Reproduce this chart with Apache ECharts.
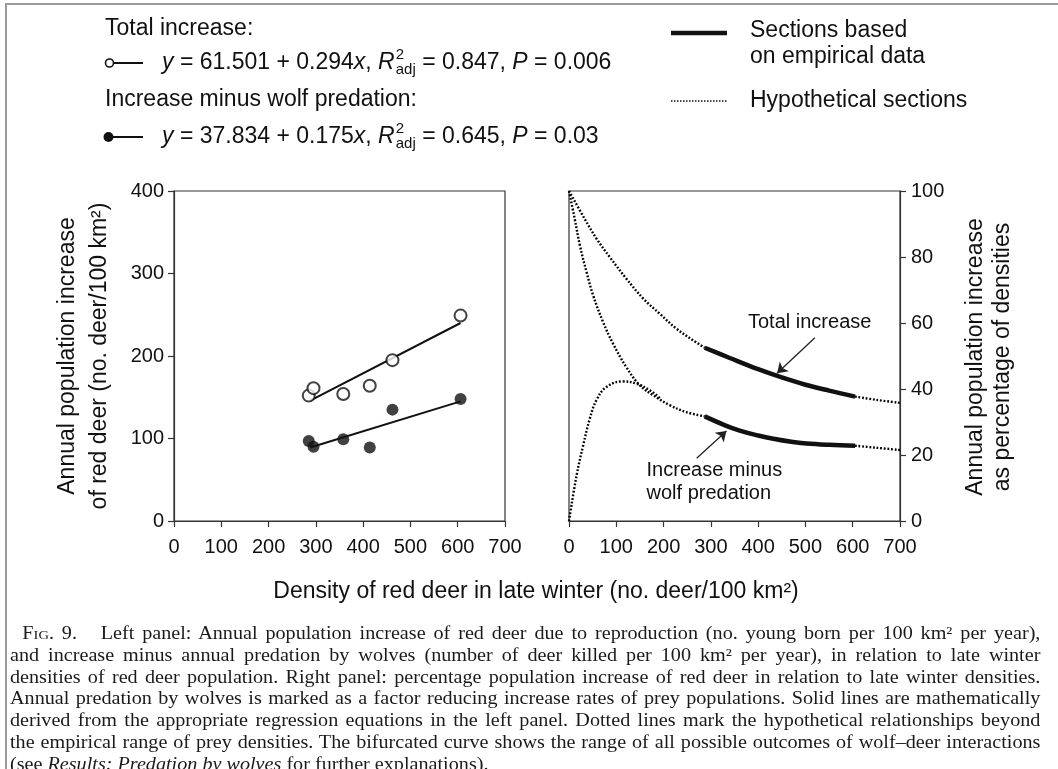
<!DOCTYPE html>
<html>
<head>
<meta charset="utf-8">
<script src="https://cdn.jsdelivr.net/npm/echarts@6/dist/echarts.min.js"></script>
<style>
html, body { margin: 0; padding: 0; background: #fff; }
#wrap { position: relative; width: 1058px; height: 769px; overflow: hidden; }
#chart { position: absolute; left: 0; top: 0; width: 1058px; height: 769px; }
#frameTop { position: absolute; left: 6px; top: 3px; width: 1052px; height: 2px; background: #999; }
#frameLeft { position: absolute; left: 5px; top: 3px; width: 2px; height: 766px; background: #999; }
#caption { position: absolute; left: 10px; top: 623px; width: 1030px; font-family: "Liberation Serif", serif;
  font-size: 18px; line-height: 21.8px; color: #1a1a1a; }
#caption div { width: 920px; transform: scaleX(1.12); transform-origin: 0 0;
  text-align: justify; text-align-last: justify; white-space: nowrap; }
#caption div.first { padding-left: 11px; width: 909px; }
#caption div.last { text-align-last: left; }
.sc { font-variant: small-caps; }
</style>
</head>
<body>
<div id="wrap">
  <div id="chart"></div>
  <div id="frameTop"></div>
  <div id="frameLeft"></div>
  <div id="caption">
    <div class="first"><span class="sc">Fig</span>. 9.&nbsp;&nbsp; Left panel: Annual population increase of red deer due to reproduction (no. young born per 100 km² per year),</div>
    <div>and increase minus annual predation by wolves (number of deer killed per 100 km² per year), in relation to late winter</div>
    <div>densities of red deer population. Right panel: percentage population increase of red deer in relation to late winter densities.</div>
    <div>Annual predation by wolves is marked as a factor reducing increase rates of prey populations. Solid lines are mathematically</div>
    <div>derived from the appropriate regression equations in the left panel. Dotted lines mark the hypothetical relationships beyond</div>
    <div>the empirical range of prey densities. The bifurcated curve shows the range of all possible outcomes of wolf–deer interactions</div>
    <div class="last">(see <i>Results: Predation by wolves</i> for further explanations).</div>
  </div>
</div>
<script>
// left panel: late winter density vs annual increase (no. deer/100 km2)
var densities = [285, 295, 358, 414, 462, 606];
var totalIncrease = [152, 161, 154, 164, 195, 249];
var netIncrease = [97, 90, 99, 89, 135, 148];

// regression line ends
var fitX = [288, 606];
var fitTotal = [146, 240];
var fitNet = [89, 145];

// right panel: percentage increase, [density, %]
var totalHypoLow = [[0, 100], [33, 91.6], [58, 85.6], [86, 80], [121, 73.5], [157, 67.4], [192, 62.8], [227, 58.3], [262, 54.8], [287, 52.5]];
var totalEmpirical = [[287, 52.5], [340, 49.4], [400, 46.0], [450, 43.5], [500, 41.3], [550, 39.5], [605, 37.7]];
var totalHypoHigh = [[605, 37.7], [650, 36.7], [700, 35.8]];
var netHypoDown = [[0, 100], [12, 91.6], [23, 83.5], [37, 75.5], [51, 68.4], [72, 60.3], [93, 53.8], [121, 46.7], [150, 41.1], [178, 38.1], [213, 35.1], [248, 33.0], [287, 31.7]];
var netHypoUp = [[0, 0], [16, 13.8], [30, 22.9], [44, 31], [58, 36.6], [79, 40.6], [114, 42.3], [143, 41.6], [171, 39.6], [195, 36.9]];
var netEmpirical = [[287, 31.7], [330, 29.0], [361, 27.4], [400, 25.9], [432, 24.9], [470, 24.0], [502, 23.5], [550, 23.1], [605, 22.8]];
var netHypoHigh = [[605, 22.8], [650, 22.2], [700, 21.5]];

// annotation arrows and labels (data units of right panel)
var arrowTotal = [[520, 55.5], [440, 44.8]];
var arrowNet = [[270, 19], [333, 27.3]];
var labelTotal = [509, 60.2];
var labelNet = [164, 15.4];

var eqTotal = [{ t: 'y', i: 1 }, { t: ' = 61.501 + 0.294' }, { t: 'x', i: 1 }, { t: ', ' }, { t: 'R', i: 1 },
  { sup: '2', sub: 'adj' }, { t: ' = 0.847, ' }, { t: 'P', i: 1 }, { t: ' = 0.006' }];
var eqNet = [{ t: 'y', i: 1 }, { t: ' = 37.834 + 0.175' }, { t: 'x', i: 1 }, { t: ', ' }, { t: 'R', i: 1 },
  { sup: '2', sub: 'adj' }, { t: ' = 0.645, ' }, { t: 'P', i: 1 }, { t: ' = 0.03' }];

var FONT = '"Liberation Sans", Arial, sans-serif';
var INK = '#111';
var BIG = 23;
var axisLineStyle = { color: '#333', width: 1.2 };

function zip(xs, ys) {
  return xs.map(function (x, k) { return [x, ys[k]]; });
}

function xAxisCfg(grid) {
  return {
    type: 'value', gridIndex: grid, min: 0, max: 700, interval: 100,
    axisLine: { show: true, onZero: false, lineStyle: axisLineStyle },
    axisTick: { show: true, length: 6, lineStyle: axisLineStyle },
    axisLabel: { fontSize: 20, fontFamily: FONT, color: INK, margin: 16 },
    splitLine: { show: false }
  };
}

var dotted = { color: '#000', width: 2.4, type: [1.8, 1.8] };
var thick = { color: INK, width: 4.5, type: 'solid' };

function curve(data, style, z) {
  return {
    type: 'line', xAxisIndex: 1, yAxisIndex: 1, data: data, smooth: 0.4, symbol: 'none',
    lineStyle: style, z: z || 2, silent: true
  };
}

var chart = echarts.init(document.getElementById('chart'));

var option = {
  animation: false,
  backgroundColor: '#fff',
  grid: [
    { left: 174, top: 191, width: 331, height: 330, show: true, borderColor: '#333', borderWidth: 1.2, outerBoundsMode: 'none' },
    { left: 569, top: 191, width: 331, height: 330, show: true, borderColor: '#333', borderWidth: 1.2, outerBoundsMode: 'none' }
  ],
  xAxis: [xAxisCfg(0), xAxisCfg(1)],
  yAxis: [
    {
      type: 'value', gridIndex: 0, min: 0, max: 400, interval: 100, position: 'left',
      axisLine: { show: true, onZero: false, lineStyle: axisLineStyle },
      axisTick: { show: true, length: 6, lineStyle: axisLineStyle },
      axisLabel: { fontSize: 20, fontFamily: FONT, color: INK, margin: 10 },
      splitLine: { show: false }
    },
    {
      type: 'value', gridIndex: 1, min: 0, max: 100, interval: 20, position: 'right',
      axisLine: { show: true, onZero: false, lineStyle: axisLineStyle },
      axisTick: { show: true, length: 6, lineStyle: axisLineStyle },
      axisLabel: { fontSize: 20, fontFamily: FONT, color: INK, margin: 11 },
      splitLine: { show: false }
    }
  ],
  series: [
    {
      type: 'line', xAxisIndex: 0, yAxisIndex: 0, data: zip(fitX, fitTotal), symbol: 'none',
      lineStyle: { color: INK, width: 2 }, silent: true
    },
    {
      type: 'line', xAxisIndex: 0, yAxisIndex: 0, data: zip(fitX, fitNet), symbol: 'none',
      lineStyle: { color: INK, width: 2 }, silent: true
    },
    {
      type: 'scatter', xAxisIndex: 0, yAxisIndex: 0, data: zip(densities, totalIncrease), symbolSize: 12,
      itemStyle: { color: '#fff', borderColor: INK, borderWidth: 2 }, z: 5
    },
    {
      type: 'scatter', xAxisIndex: 0, yAxisIndex: 0, data: zip(densities, netIncrease), symbolSize: 12,
      itemStyle: { color: INK }, z: 5
    },
    curve(totalHypoLow, dotted),
    curve(totalEmpirical, thick, 3),
    curve(totalHypoHigh, dotted),
    curve(netHypoDown, dotted),
    curve(netHypoUp, dotted),
    curve(netHypoHigh, dotted),
    Object.assign(curve(netEmpirical, thick, 3), {
      markLine: {
        silent: true, symbol: ['none', 'arrow'], symbolSize: 10,
        lineStyle: { color: '#222', width: 1.3, type: 'solid' },
        label: { show: false },
        data: [
          [{ coord: arrowTotal[0] }, { coord: arrowTotal[1] }],
          [{ coord: arrowNet[0] }, { coord: arrowNet[1] }]
        ]
      }
    })
  ]
};

chart.setOption(option);

var measureCtx = document.createElement('canvas').getContext('2d');
function textWidth(s, size, italic) {
  measureCtx.font = (italic ? 'italic ' : '') + size + 'px ' + FONT;
  return measureCtx.measureText(s).width;
}
function txt(s, x, y, size, opts) {
  opts = opts || {};
  return {
    type: 'text', x: x, y: y, rotation: opts.rot || 0, silent: true,
    style: {
      text: s, fontSize: size, fontFamily: FONT, fontStyle: opts.italic ? 'italic' : 'normal',
      fill: INK, align: opts.align || 'left', verticalAlign: 'middle'
    }
  };
}
function equation(parts, x0, cy) {
  var els = [], x = x0;
  parts.forEach(function (p) {
    if (p.sup) {
      els.push(txt(p.sup, x + 1, cy - 8, 15));
      els.push(txt(p.sub, x + 1, cy + 7, 15));
      x += 1 + Math.max(textWidth(p.sup, 15), textWidth(p.sub, 15));
    } else {
      els.push(txt(p.t, x, cy, BIG, { italic: p.i }));
      x += textWidth(p.t, BIG, p.i);
    }
  });
  return els;
}

var rightPx = function (pt) { return chart.convertToPixel({ xAxisIndex: 1, yAxisIndex: 1 }, pt); };
var pTotal = rightPx(labelTotal);
var pNet = rightPx(labelNet);
var pNet2 = rightPx([labelNet[0], labelNet[1] - 7.1]);

var graphics = [
  // legend, left block
  txt('Total increase:', 105, 29, BIG),
  { type: 'line', silent: true, shape: { x1: 113.5, y1: 63, x2: 143, y2: 63 }, style: { stroke: INK, lineWidth: 2 } },
  { type: 'circle', silent: true, shape: { cx: 109.5, cy: 63, r: 4 }, style: { fill: '#fff', stroke: INK, lineWidth: 1.6 } },
  txt('Increase minus wolf predation:', 105, 100, BIG),
  { type: 'line', silent: true, shape: { x1: 110, y1: 137, x2: 143, y2: 137 }, style: { stroke: INK, lineWidth: 2 } },
  { type: 'circle', silent: true, shape: { cx: 108.5, cy: 137, r: 5 }, style: { fill: INK } },
  // legend, right block
  { type: 'line', silent: true, shape: { x1: 671, y1: 33, x2: 727, y2: 33 }, style: { stroke: INK, lineWidth: 4.5 } },
  txt('Sections based', 750, 31, BIG),
  txt('on empirical data', 750, 57, BIG),
  { type: 'line', silent: true, shape: { x1: 671, y1: 101, x2: 727, y2: 101 }, style: { stroke: INK, lineWidth: 1.5, lineDash: [1.5, 1.5] } },
  txt('Hypothetical sections', 750, 101, BIG),
  // axis titles
  txt('Annual population increase', 68, 356, BIG, { rot: Math.PI / 2, align: 'center' }),
  txt('of red deer (no. deer/100 km²)', 100, 356, BIG, { rot: Math.PI / 2, align: 'center' }),
  txt('Annual population increase', 976, 357, BIG, { rot: Math.PI / 2, align: 'center' }),
  txt('as percentage of densities', 1003, 357, BIG, { rot: Math.PI / 2, align: 'center' }),
  txt('Density of red deer in late winter (no. deer/100 km²)', 536, 592, BIG, { align: 'center' }),
  // panel annotations
  txt('Total increase', pTotal[0], pTotal[1], 20, { align: 'center' }),
  txt('Increase minus', pNet[0], pNet[1], 20),
  txt('wolf predation', pNet2[0], pNet2[1], 20)
];
graphics = graphics.concat(equation(eqTotal, 162, 63), equation(eqNet, 162, 137));

chart.setOption({ graphic: graphics });
</script>
</body>
</html>
